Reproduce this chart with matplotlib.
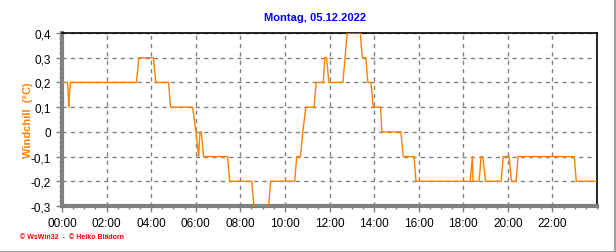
import matplotlib
matplotlib.use('Agg')
import matplotlib.pyplot as plt
from matplotlib.ticker import MultipleLocator, FixedLocator
from matplotlib.lines import Line2D

plt.rcParams['font.family'] = ['Liberation Sans', 'DejaVu Sans']

# Windchill, Montag 05.12.2022 (time in hours, value in °C)
hours = [0.0, 0.25, 0.28, 0.30, 0.33, 0.38,
         3.34, 3.45, 4.10, 4.21, 4.78, 4.87,
         5.86, 6.01, 6.13, 6.19, 6.25, 6.35,
         7.43, 7.52, 8.51, 8.61, 9.27, 9.36,
         10.44, 10.53, 10.70, 10.80, 10.94, 11.31, 11.40,
         11.72, 11.79, 11.87, 11.97, 12.60, 12.70, 12.79,
         13.38, 13.47, 13.63, 13.72, 13.86, 13.96, 14.29, 14.35,
         15.20, 15.31, 15.79, 15.88,
         18.31, 18.41, 18.44, 18.71, 18.80, 18.88, 19.00,
         19.70, 19.79, 20.06, 20.16, 20.37, 20.46,
         22.98, 23.07, 23.96]
windchill = [0.2, 0.2, 0.15, 0.1, 0.15, 0.2,
             0.2, 0.3, 0.3, 0.2, 0.2, 0.1,
             0.1, 0.0, -0.1, 0.0, 0.0, -0.1,
             -0.1, -0.2, -0.2, -0.3, -0.3, -0.2,
             -0.2, -0.1, -0.1, 0.0, 0.1, 0.1, 0.2,
             0.2, 0.3, 0.3, 0.2, 0.2, 0.3, 0.4,
             0.4, 0.3, 0.3, 0.2, 0.2, 0.1, 0.1, 0.0,
             0.0, -0.1, -0.1, -0.2,
             -0.2, -0.1, -0.2, -0.2, -0.1, -0.1, -0.2,
             -0.2, -0.1, -0.1, -0.2, -0.2, -0.1,
             -0.1, -0.2, -0.2]

xticks = [0, 2, 4, 6, 8, 10, 12, 14, 16, 18, 20, 22]
xlabels = ['00:00', '02:00', '04:00', '06:00', '08:00', '10:00',
           '12:00', '14:00', '16:00', '18:00', '20:00', '22:00']
yticks = [-0.3, -0.2, -0.1, 0, 0.1, 0.2, 0.3, 0.4]
ylabels = ['-0,3', '-0,2', '-0,1', '0', '0,1', '0,2', '0,3', '0,4']

fig = plt.figure(figsize=(6.16, 2.53), dpi=100)
ax = fig.add_axes([62/616, 1 - 207/253, 535/616, 173/253])

ax.plot(hours, windchill, color='#ff8000', lw=1.0, zorder=3)

ax.set_xlim(0, 24)
ax.set_ylim(-0.3, 0.4)
ax.xaxis.set_major_locator(FixedLocator(xticks))
ax.set_xticklabels(xlabels)
ax.xaxis.set_minor_locator(MultipleLocator(0.5))
ax.yaxis.set_major_locator(FixedLocator(yticks))
ax.set_yticklabels(ylabels)
ax.yaxis.set_minor_locator(MultipleLocator(0.02))

ax.grid(True, which='major', color='#808080', ls=(0, (3, 3)), lw=1)
ax.tick_params(which='both', direction='out', color='#808080', labelsize=8.5, pad=4)
ax.tick_params(which='major', length=4, width=1)
ax.tick_params(which='minor', length=2.5, width=1)

for s in ['left', 'bottom']:
    ax.spines[s].set_color('#808080')
    ax.spines[s].set_linewidth(3)
for s in ['top', 'right']:
    ax.spines[s].set_color('black')
    ax.spines[s].set_linewidth(1.2)

fig.text(315/616, 1 - 18/253, 'Montag, 05.12.2022', color='#0000ff',
         fontsize=8, fontweight='bold', ha='center', va='center')
fig.text(28/616, 1 - 120/253, 'Windchill  (°C)', color='#ff8000',
         fontsize=8, fontweight='bold', rotation=90, ha='center', va='center')
fig.text(20/616, 1 - 238/253, '© WsWin32  -  © Heiko Blädorn', color='#ff0000',
         fontsize=5, fontweight='bold', ha='left', va='center')

# window border
fig.add_artist(Line2D([0, 1], [0.5/253, 0.5/253], color='#a0a0a0', lw=1.5, transform=fig.transFigure))
fig.add_artist(Line2D([1 - 1/616, 1 - 1/616], [0, 1], color='#a0a0a0', lw=1.5, transform=fig.transFigure))

fig.savefig('out.png', dpi=100)
